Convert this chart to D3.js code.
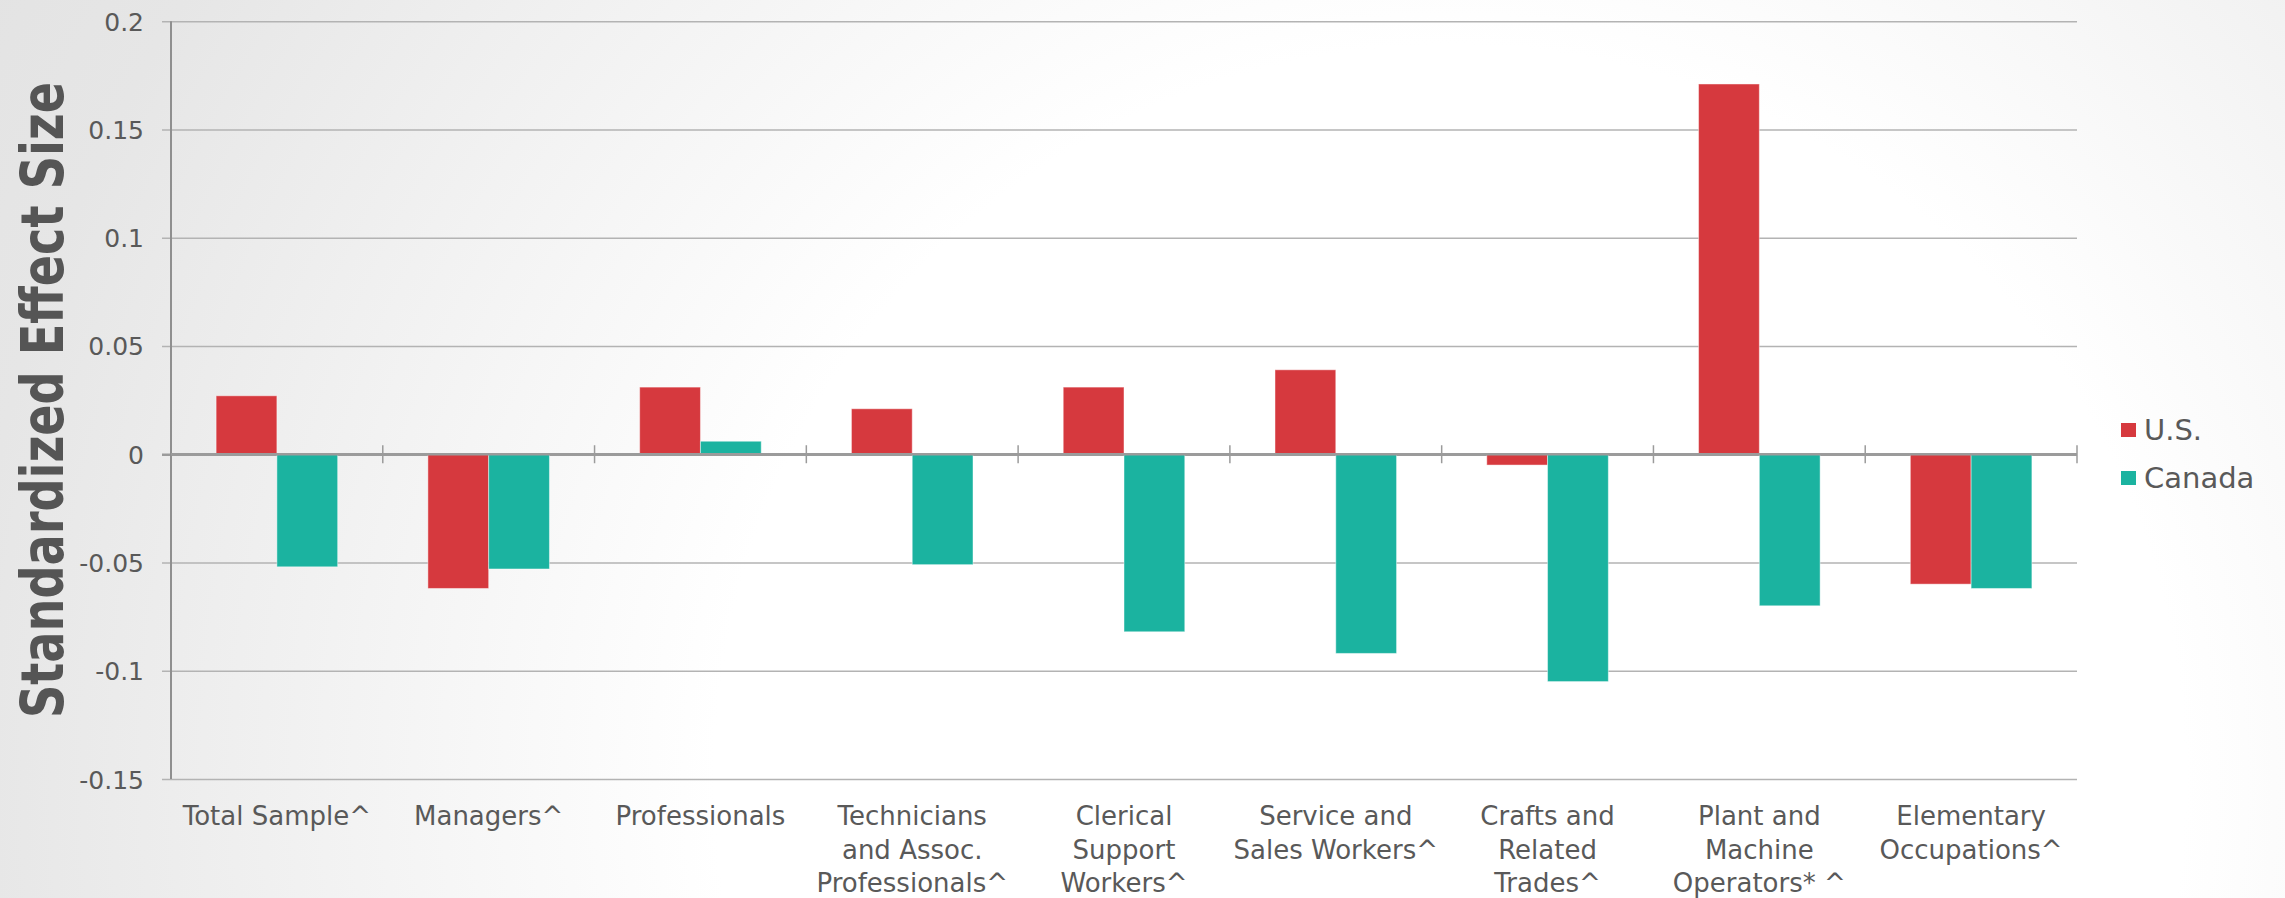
<!DOCTYPE html>
<html>
<head>
<meta charset="utf-8">
<script src="https://cdn.jsdelivr.net/npm/d3@7/dist/d3.min.js"></script>
<style>
  html, body { margin: 0; padding: 0; overflow: hidden; }
  svg { display: block; }
</style>
</head>
<body>
<svg id="chart" width="2285" height="898"></svg>
<script>
const categories = [
  "Total Sample^", "Managers^", "Professionals",
  "Technicians and Assoc. Professionals^", "Clerical Support Workers^",
  "Service and Sales Workers^", "Crafts and Related Trades^",
  "Plant and Machine Operators* ^", "Elementary Occupations^"
];
const labelLines = [
  ["Total Sample^"], ["Managers^"], ["Professionals"],
  ["Technicians", "and Assoc.", "Professionals^"],
  ["Clerical", "Support", "Workers^"],
  ["Service and", "Sales Workers^"],
  ["Crafts and", "Related", "Trades^"],
  ["Plant and", "Machine", "Operators* ^"],
  ["Elementary", "Occupations^"]
];
const seriesNames = ["U.S.", "Canada"];
const usValues = [0.027, -0.062, 0.031, 0.021, 0.031, 0.039, -0.005, 0.171, -0.060];
const canadaValues = [-0.052, -0.053, 0.006, -0.051, -0.082, -0.092, -0.105, -0.070, -0.062];
const yTicks = [-0.15, -0.1, -0.05, 0, 0.05, 0.1, 0.15, 0.2];
const yTickLabels = ["-0.15", "-0.1", "-0.05", "0", "0.05", "0.1", "0.15", "0.2"];
const yTitle = "Standardized Effect Size";

(function () {
const colors = ["#d6393e", "#1bb3a0"];
const textColor = "#595959";
const font = "'DejaVu Sans', 'Open Sans', sans-serif";

const svg = d3.select("#chart");
const W = 2285, H = 898;

// background gradient
const defs = svg.append("defs");
const rg = defs.append("radialGradient").attr("id", "bg")
  .attr("gradientUnits", "userSpaceOnUse")
  .attr("cx", 1450).attr("cy", 780).attr("r", 1750);
rg.append("stop").attr("offset", "0").attr("stop-color", "#ffffff");
rg.append("stop").attr("offset", "0.42").attr("stop-color", "#ffffff");
rg.append("stop").attr("offset", "0.85").attr("stop-color", "#e6e6e6");
rg.append("stop").attr("offset", "1").attr("stop-color", "#e2e2e2");
svg.append("rect").attr("width", W).attr("height", H).attr("fill", "url(#bg)");

const pLeft = 171, pRight = 2077, pTop = 21.2, pBottom = 779;

const x = d3.scaleBand().domain(categories).range([pLeft, pRight]).paddingInner(0).paddingOuter(0);
const y = d3.scaleLinear().domain([-0.15, 0.2]).range([pBottom, pTop]);

// gridlines + tick labels via axis
const gy = svg.append("g").attr("transform", `translate(${pRight},0)`);
gy.call(d3.axisLeft(y).tickValues(yTicks).tickSize(pRight - pLeft + 9).tickFormat((d, i) => yTickLabels[i]));
gy.select(".domain").remove();
gy.selectAll(".tick line")
  .attr("stroke", d => d === 0 ? "#9b9b9b" : "#b3b3b3")
  .attr("stroke-width", d => d === 0 ? 2.5 : 1.6);
gy.selectAll(".tick text")
  .attr("x", -(pRight - pLeft + 9) - 18)
  .attr("fill", textColor)
  .style("font-family", font)
  .style("font-size", "25px")
  .attr("dy", "0.36em");

// y axis line
svg.append("line")
  .attr("x1", pLeft).attr("x2", pLeft)
  .attr("y1", y(0.2)).attr("y2", y(-0.15))
  .attr("stroke", "#8f8f8f").attr("stroke-width", 2);

// category tick marks at zero line
const step = x.step();
svg.append("g").selectAll("line")
  .data(categories)
  .join("line")
  .attr("x1", d => x(d) + step).attr("x2", d => x(d) + step)
  .attr("y1", y(0) - 9).attr("y2", y(0) + 9)
  .attr("stroke", "#9b9b9b").attr("stroke-width", 1.5);

// bars
const barW = step * 0.287;
const series = [usValues, canadaValues];
series.forEach((vals, si) => {
  svg.append("g").selectAll("rect")
    .data(categories.map((c, i) => ({ c, v: vals[i] })))
    .join("rect")
    .attr("x", d => x(d.c) + step / 2 - barW + si * barW)
    .attr("width", barW)
    .attr("y", d => y(Math.max(0, d.v)))
    .attr("height", d => Math.abs(y(d.v) - y(0)))
    .attr("fill", colors[si])
    .attr("stroke", "rgba(255,255,255,0.45)")
    .attr("stroke-width", 1);
});

// zero line on top
svg.append("line")
  .attr("x1", pLeft).attr("x2", pRight)
  .attr("y1", y(0)).attr("y2", y(0))
  .attr("stroke", "#9b9b9b").attr("stroke-width", 2.5);

// x labels
const lineH = 33.5;
const gx = svg.append("g");
categories.forEach((c, i) => {
  const t = gx.append("text")
    .attr("text-anchor", "middle")
    .attr("fill", textColor)
    .style("font-family", font)
    .style("font-size", "26px");
  labelLines[i].forEach((ln, j) => {
    t.append("tspan").attr("x", x(c) + step / 2).attr("y", 825 + j * lineH).text(ln);
  });
});

// y title
svg.append("text")
  .attr("transform", `translate(63,400) rotate(-90)`)
  .attr("text-anchor", "middle")
  .attr("fill", "#555555")
  .style("font-family", "'Liberation Sans Narrow', 'DejaVu Sans Condensed', sans-serif")
  .style("font-weight", "bold")
  .style("font-size", "58px")
  .attr("textLength", 636)
  .attr("lengthAdjust", "spacingAndGlyphs")
  .text(yTitle);

// legend
const lg = svg.append("g");
seriesNames.forEach((n, i) => {
  lg.append("rect")
    .attr("x", 2121).attr("y", 423 + i * 48)
    .attr("width", 15).attr("height", 14)
    .attr("fill", colors[i]);
  lg.append("text")
    .attr("x", 2144).attr("y", 440 + i * 48)
    .attr("fill", textColor)
    .style("font-family", font)
    .style("font-size", "29px")
    .text(n);
});
})();
</script>
</body>
</html>
